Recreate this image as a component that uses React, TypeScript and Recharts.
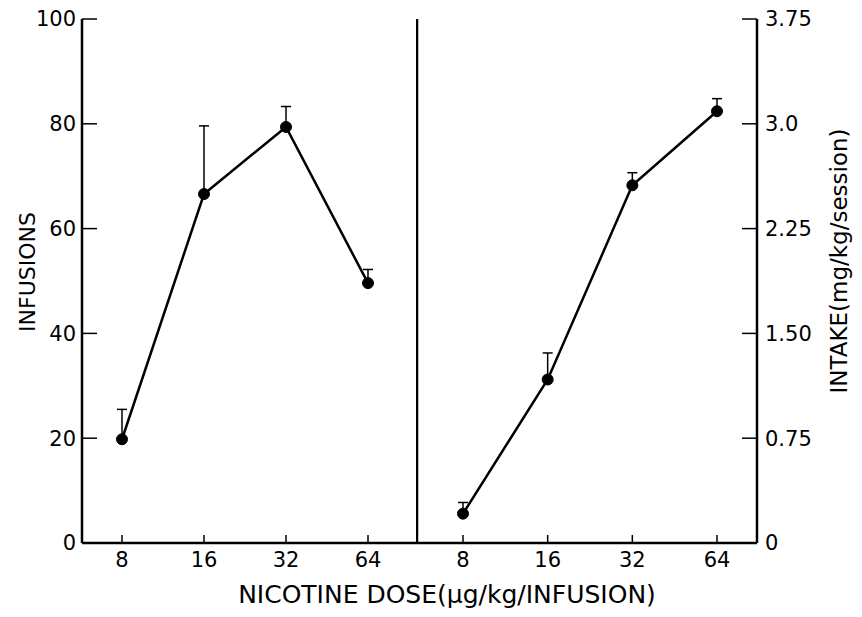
import React from 'react';
import { LineChart, Line, XAxis, YAxis, ErrorBar } from 'recharts';

// Nicotine self-administration: infusions per session and total intake by unit dose
const doses = ['8', '16', '32', '64'];
const infusions = [19.8, 66.6, 79.4, 49.6];
const infusionsSem = [5.7, 13, 3.9, 2.6];
const intake = [0.21, 1.17, 2.56, 3.09];
const intakeSem = [0.08, 0.19, 0.09, 0.09];
const infusionTicks = [0, 20, 40, 60, 80, 100];
const intakeTicks = [0, 0.75, 1.5, 2.25, 3.0, 3.75];
const intakeTickLabels = ['0', '0.75', '1.50', '2.25', '3.0', '3.75'];

const leftData = doses.map((d, i) => ({ dose: d, value: infusions[i], err: [0, infusionsSem[i]] }));
const rightData = doses.map((d, i) => ({ dose: d, value: intake[i], err: [0, intakeSem[i]] }));

const FONT = '"DejaVu Sans", sans-serif';
const tickStyle = { fill: '#000', fontSize: 21, fontFamily: FONT };
const axisLine = { stroke: '#000', strokeWidth: 2.5 };
const tickLine = { stroke: '#000', strokeWidth: 1.5 };
const dotStyle = { r: 5.5, fill: '#000', stroke: '#000', strokeWidth: 1 };

export default function App() {
  return (
    <div style={{ position: 'absolute', left: 0, top: 0, width: 862, height: 617, background: '#fff' }}>
      <div style={{ position: 'absolute', left: 0, top: 0 }}>
        <LineChart width={418} height={617} data={leftData} margin={{ top: 19, right: 1, bottom: 44, left: 22 }}>
          <XAxis
            dataKey="dose"
            height={30}
            interval={0}
            padding={{ left: 40, right: 49 }}
            tickSize={-8}
            tickMargin={17}
            axisLine={axisLine}
            tickLine={tickLine}
            tick={tickStyle}
          />
          <YAxis
            width={60}
            domain={[0, 100]}
            ticks={infusionTicks}
            interval={0}
            tickSize={-15}
            tickMargin={21}
            axisLine={axisLine}
            tickLine={tickLine}
            tick={tickStyle}
          />
          <Line
            dataKey="value"
            stroke="#000"
            strokeWidth={2.5}
            dot={dotStyle}
            activeDot={false}
            isAnimationActive={false}
          >
            <ErrorBar dataKey="err" direction="y" width={5} stroke="#000" strokeWidth={1.5} />
          </Line>
        </LineChart>
      </div>
      <div style={{ position: 'absolute', left: 416, top: 0 }}>
        <LineChart width={446} height={617} data={rightData} margin={{ top: 19, right: 45, bottom: 44, left: 0 }}>
          <XAxis
            dataKey="dose"
            height={30}
            interval={0}
            padding={{ left: 46, right: 40 }}
            tickSize={-8}
            tickMargin={17}
            axisLine={axisLine}
            tickLine={tickLine}
            tick={tickStyle}
          />
          <YAxis
            yAxisId="edge"
            orientation="left"
            width={1}
            type="number"
            domain={[0, 3.75]}
            ticks={intakeTicks}
            tick={false}
            tickLine={false}
            axisLine={axisLine}
          />
          <YAxis
            yAxisId="intake"
            orientation="right"
            width={60}
            domain={[0, 3.75]}
            ticks={intakeTicks}
            interval={0}
            tickSize={-15}
            tickMargin={23}
            tickFormatter={(v: number) => intakeTickLabels[intakeTicks.indexOf(v)] ?? String(v)}
            axisLine={axisLine}
            tickLine={tickLine}
            tick={tickStyle}
          />
          <Line
            yAxisId="intake"
            dataKey="value"
            stroke="#000"
            strokeWidth={2.5}
            dot={dotStyle}
            activeDot={false}
            isAnimationActive={false}
          >
            <ErrorBar dataKey="err" direction="y" width={5} stroke="#000" strokeWidth={1.5} />
          </Line>
        </LineChart>
      </div>
      <svg width={862} height={617} style={{ position: 'absolute', left: 0, top: 0, pointerEvents: 'none' }}>
        <text
          x={27}
          y={272}
          transform="rotate(-90 27 272)"
          textAnchor="middle"
          dominantBaseline="central"
          fontFamily={FONT}
          fontSize={22}
          fill="#000"
        >
          INFUSIONS
        </text>
        <text
          x={839}
          y={261}
          transform="rotate(-90 839 261)"
          textAnchor="middle"
          dominantBaseline="central"
          fontFamily={FONT}
          fontSize={23}
          fill="#000"
        >
          INTAKE(mg/kg/session)
        </text>
        <text
          x={447}
          y={594}
          textAnchor="middle"
          dominantBaseline="central"
          fontFamily={FONT}
          fontSize={25}
          fill="#000"
        >
          NICOTINE DOSE(μg/kg/INFUSION)
        </text>
      </svg>
    </div>
  );
}
